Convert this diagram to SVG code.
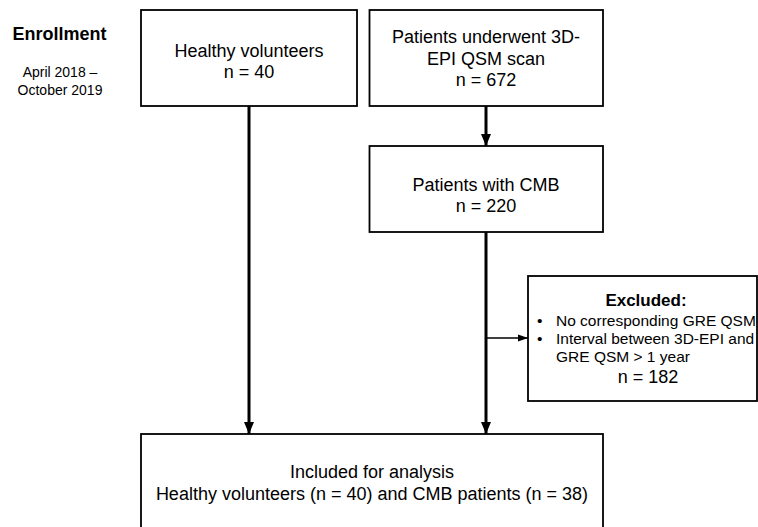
<svg xmlns="http://www.w3.org/2000/svg" width="758" height="527" viewBox="0 0 758 527">
<defs>
<style>
.box{fill:#fff;stroke:#000;stroke-width:1.8}
.t{font-family:"Liberation Sans",Arial,sans-serif;font-size:18px;fill:#000;text-anchor:middle}
.b{font-weight:bold}
.s{font-size:14px}
.l{font-size:15.5px;text-anchor:start}
.c{fill:none;stroke:#000;stroke-width:3}
.thin{fill:none;stroke:#000;stroke-width:1.5}
</style>
<marker id="ah" markerUnits="userSpaceOnUse" markerWidth="12" markerHeight="12" viewBox="0 0 12 12" refX="12" refY="6" orient="auto">
<path d="M0,1 L12,6 L0,11 Z" fill="#000"/>
</marker>
<marker id="ahs" markerUnits="userSpaceOnUse" markerWidth="10" markerHeight="8" viewBox="0 0 10 8" refX="10" refY="4" orient="auto">
<path d="M0,0.5 L10,4 L0,7.5 Z" fill="#000"/>
</marker>
</defs>
<rect width="758" height="527" fill="#fff"/>
<g id="label-enrollment">
<text class="t b" x="59.5" y="40">Enrollment</text>
<text class="t s" x="60" y="77">April 2018 –</text>
<text class="t s" x="60" y="95">October 2019</text>
</g>
<g id="connectors">
<line class="c" x1="249" y1="106" x2="249" y2="434" marker-end="url(#ah)"/>
<line class="c" x1="486" y1="106" x2="486" y2="146" marker-end="url(#ah)"/>
<line class="c" x1="486" y1="232" x2="486" y2="434" marker-end="url(#ah)"/>
<line class="thin" x1="486" y1="338" x2="528" y2="338" marker-end="url(#ahs)"/>
</g>
<g id="node-healthy">
<rect class="box" x="141" y="10" width="216" height="96"/>
<text class="t" x="249" y="57">Healthy volunteers</text>
<text class="t" x="249" y="78">n = 40</text>
</g>
<g id="node-patients">
<rect class="box" x="369.5" y="10" width="233.5" height="96"/>
<text class="t" x="486" y="43">Patients underwent 3D-</text>
<text class="t" x="486" y="65">EPI QSM scan</text>
<text class="t" x="486" y="86">n = 672</text>
</g>
<g id="node-cmb">
<rect class="box" x="369.5" y="146" width="233.5" height="86"/>
<text class="t" x="486" y="191">Patients with CMB</text>
<text class="t" x="486" y="212">n = 220</text>
</g>
<g id="node-excluded">
<rect class="box" x="528" y="276" width="229" height="125"/>
<text class="t b" x="646" y="306" style="font-size:17px">Excluded:</text>
<text class="t l" x="537" y="326">•</text>
<text class="t l" x="556" y="326">No corresponding GRE QSM</text>
<text class="t l" x="537" y="344">•</text>
<text class="t l" x="556" y="344">Interval between 3D-EPI and</text>
<text class="t l" x="556" y="362">GRE QSM &gt; 1 year</text>
<text class="t" x="648" y="383">n = 182</text>
</g>
<g id="node-included">
<rect class="box" x="141" y="434" width="462" height="110"/>
<text class="t" x="372" y="478">Included for analysis</text>
<text class="t" x="372" y="500">Healthy volunteers (n = 40) and CMB patients (n = 38)</text>
</g>
</svg>
